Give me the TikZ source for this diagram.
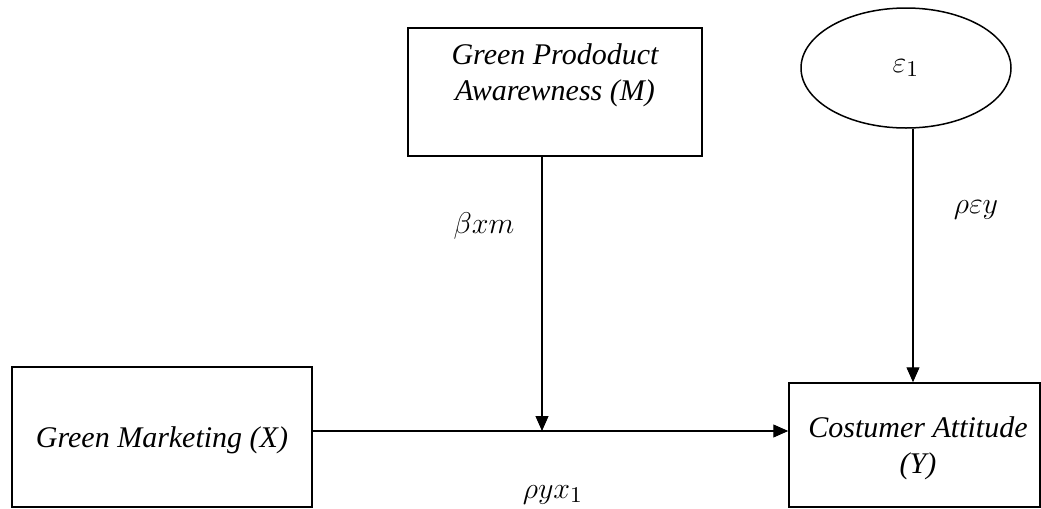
\documentclass[tikz,border=0pt]{standalone}
\usepackage{fontspec}
\setmainfont{Liberation Serif}
\usetikzlibrary{arrows.meta,shapes.geometric,positioning}

\tikzset{
  varbox/.style={draw, line width=0.6pt, rectangle, inner sep=0pt},
  lbl/.style={font=\fontsize{12}{14.5}\selectfont\itshape, align=center, inner sep=0pt},
  coef/.style={font=\fontsize{13}{15}\selectfont, inner sep=0pt},
  path arrow/.style={line width=0.45pt, -{Triangle[width=5.2pt,length=6pt]}}
}

\begin{document}
\begin{tikzpicture}[x=0.4pt, y=-0.4pt]
  \useasboundingbox (0,0) rectangle (1041,508);

  % mediator, error term, predictor and outcome
  \node[varbox, minimum width=117.6pt, minimum height=51.2pt] (M) at (555,92) {};
  \node[lbl] (Mt) at (555,75.5) {Green Prododuct\\Awarewness (M)};

  \node[draw, line width=0.6pt, ellipse, minimum width=84pt, minimum height=48pt, inner sep=0pt] (E) at (906,68) {};
  \node[coef] (Et) at (906,68) {$\varepsilon_1$};

  \node[varbox, minimum width=120pt, minimum height=56pt] (X) at (162,437) {};
  \node[lbl] (Xt) at (162,440) {Green Marketing (X)};

  \node[varbox, minimum width=100.4pt, minimum height=49.6pt] (Y) at (914.5,445) {};
  \node[lbl] (Yt) at (918,448.5) {Costumer Attitude\\(Y)};

  % junction of the moderating path with the main path
  \coordinate (jn) at (542,431);
  \path (E.south) ++(7,0) coordinate (es);

  % paths
  \draw[path arrow] (X.east |- jn) -- (Y.west |- jn);
  \draw[path arrow] (M.south -| jn) -- (jn);
  \draw[path arrow] (es) -- (es |- Y.north);

  % coefficients, placed on their baselines
  \node[coef, anchor=base] (bxm) at (484,233) {$\beta x m$};
  \node[coef, anchor=base] (pey) at (976,213) {$\rho\varepsilon y$};
  \node[coef, anchor=base] (pyx) at (553,498) {$\rho y x_1$};
\end{tikzpicture}
\end{document}
